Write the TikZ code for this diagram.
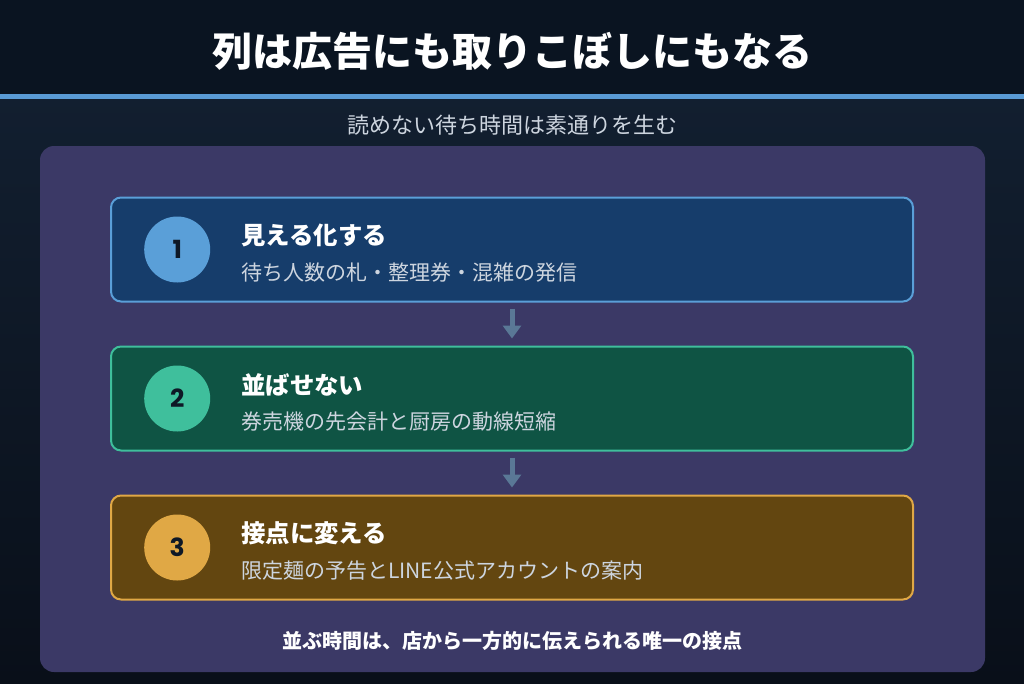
\documentclass[tikz,border=0pt]{standalone}
\usepackage{fontspec}
\usepackage{tikz}
\usetikzlibrary{positioning,arrows.meta}
\setmainfont{Noto Sans CJK JP}
\newfontfamily\numfont{Poppins}

\definecolor{bgtop}{HTML}{0A1421}
\definecolor{bgmid}{HTML}{121F30}
\definecolor{bgbot}{HTML}{090F19}
\definecolor{rule}{HTML}{5A9BD5}
\definecolor{panel}{HTML}{3B3966}
\definecolor{subtxt}{HTML}{CDD5DF}
\definecolor{flow}{HTML}{5A7896}
\definecolor{numtxt}{HTML}{0E1826}
\definecolor{blueline}{HTML}{5A9FD8}
\definecolor{bluefill}{HTML}{163D6B}
\definecolor{greenline}{HTML}{3FBF9C}
\definecolor{greenfill}{HTML}{0F5444}
\definecolor{goldline}{HTML}{E0A845}
\definecolor{goldfill}{HTML}{634610}

\begin{document}
\begin{tikzpicture}[
    x=1pt, y=-1pt,
    card/.style 2 args={draw=#1, fill=#2, line width=2pt, rounded corners=10pt,
      minimum width=802pt, minimum height=104pt, inner sep=0pt},
    badge/.style={circle, fill=#1, minimum size=66pt, inner sep=0pt,
      font=\numfont\bfseries\fontsize{25}{25}\selectfont, text=numtxt},
    head/.style={anchor=west, text=white, inner sep=0pt,
      font=\bfseries\fontsize{24.4}{24.4}\selectfont},
    note/.style={anchor=west, text=subtxt, inner sep=0pt,
      font=\fontsize{21}{21}\selectfont},
    flowarrow/.style={draw=flow, line width=5pt,
      -{Triangle[width=18pt,length=13pt]}, shorten <=6pt, shorten >=7pt}
  ]
  % background
  \useasboundingbox (0,0) rectangle (1024,683);
  \shade[top color=bgmid, bottom color=bgbot] (0,94) rectangle (1024,683);
  \fill[bgtop] (0,0) rectangle (1024,94);
  \fill[rule] (0,94) rectangle (1024,99);

  \node (title) [text=white, font=\bfseries\fontsize{40}{40}\selectfont]
    at (512,51) {列は広告にも取りこぼしにもなる};
  \node (subtitle) [text=subtxt, font=\fontsize{22}{22}\selectfont]
    at (512,125) {読めない待ち時間は素通りを生む};

  \node (panel) [fill=panel, rounded corners=14pt, minimum width=945pt,
    minimum height=526pt] at (512.5,409) {};

  % steps
  \node (box1) [card={blueline}{bluefill}] at (512,249.5) {};
  \node (box2) [card={greenline}{greenfill}, below=43pt of box1] {};
  \node (box3) [card={goldline}{goldfill}, below=43pt of box2] {};

  \node (n1) [badge=blueline, right=34pt of box1.west] {1};
  \node (n2) [badge=greenline, right=34pt of box2.west] {2};
  \node (n3) [badge=goldline, right=34pt of box3.west] {3};

  \node (h1) [head] at ([xshift=131pt,yshift=14pt]box1.west) {見える化する};
  \node (s1) [note] at ([xshift=131pt,yshift=-23pt]box1.west)
    {待ち人数の札・整理券・混雑の発信};
  \node (h2) [head] at ([xshift=131pt,yshift=14pt]box2.west) {並ばせない};
  \node (s2) [note] at ([xshift=131pt,yshift=-23pt]box2.west)
    {券売機の先会計と厨房の動線短縮};
  \node (h3) [head] at ([xshift=131pt,yshift=14pt]box3.west) {接点に変える};
  \node (s3) [note] at ([xshift=131pt,yshift=-23pt]box3.west)
    {限定麺の予告とLINE公式アカウントの案内};

  \draw[flowarrow] (box1.south) -- (box2.north);
  \draw[flowarrow] (box2.south) -- (box3.north);

  \node (footer) [text=white, font=\bfseries\fontsize{20}{20}\selectfont]
    at (512,641) {並ぶ時間は、店から一方的に伝えられる唯一の接点};
\end{tikzpicture}
\end{document}
